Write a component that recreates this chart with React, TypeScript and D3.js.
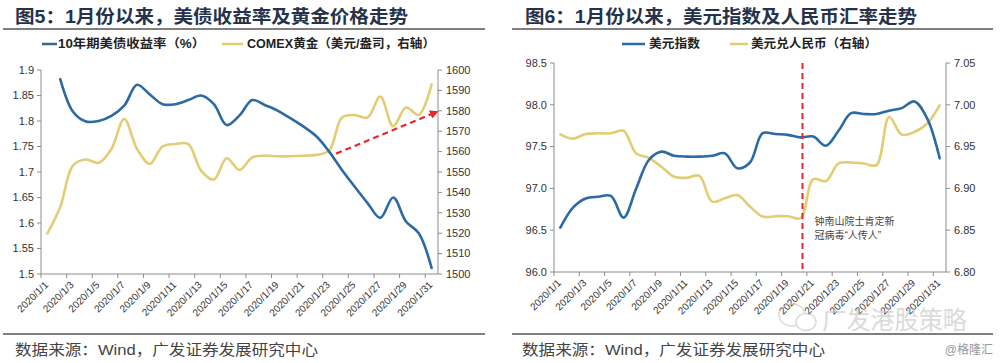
import * as d3 from "d3";

// 2020年1月 每日
const dates = [
  "2020/1/1", "2020/1/2", "2020/1/3", "2020/1/4", "2020/1/5", "2020/1/6", "2020/1/7", "2020/1/8",
  "2020/1/9", "2020/1/10", "2020/1/11", "2020/1/12", "2020/1/13", "2020/1/14", "2020/1/15", "2020/1/16",
  "2020/1/17", "2020/1/18", "2020/1/19", "2020/1/20", "2020/1/21", "2020/1/22", "2020/1/23", "2020/1/24",
  "2020/1/25", "2020/1/26", "2020/1/27", "2020/1/28", "2020/1/29", "2020/1/30", "2020/1/31",
];

// 图5
const ust10y = [
  null, 1.882, 1.818, 1.799, 1.8, 1.81, 1.83, 1.871, 1.852, 1.833, 1.833, 1.841, 1.85, 1.833, 1.792, 1.811,
  1.841, 1.831, 1.82, 1.805, 1.789, 1.77, 1.74, 1.704, 1.671, 1.639, 1.61, 1.65, 1.603, 1.58, 1.512,
];
const comexGold = [
  1519.8, 1532.8, 1553.2, 1556.1, 1554.5, 1561.3, 1576, 1561.3, 1554, 1562.6, 1563.7, 1563.7, 1550.7, 1546.3,
  1556.7, 1551, 1557.2, 1558, 1557.7, 1557.7, 1558, 1558.4, 1560.5, 1576.7, 1577.9, 1576.7, 1587, 1572.4,
  1581.6, 1578, 1593,
];
const yieldTicks = [1.5, 1.55, 1.6, 1.65, 1.7, 1.75, 1.8, 1.85, 1.9];
const goldTicks = [1500, 1510, 1520, 1530, 1540, 1550, 1560, 1570, 1580, 1590, 1600];

// 图6
const dxy = [
  96.53, 96.77, 96.88, 96.9, 96.91, 96.65, 97.0, 97.34, 97.44, 97.39, 97.38, 97.38, 97.39, 97.42, 97.24, 97.31,
  97.66, 97.65, 97.64, 97.61, 97.62, 97.51, 97.69, 97.9, 97.89, 97.89, 97.93, 97.96, 98.04, 97.84, 97.36,
];
const usdcny = [
  6.9647, 6.9595, 6.9651, 6.9659, 6.9659, 6.969, 6.9417, 6.9365, 6.9258, 6.9139, 6.9127, 6.915, 6.8841, 6.8881,
  6.892, 6.8782, 6.8663, 6.8667, 6.8667, 6.8643, 6.9111, 6.9087, 6.9298, 6.931, 6.9298, 6.9278, 6.9853, 6.9643,
  6.9675, 6.9774, 6.9992,
];
const dxyTicks = [96.0, 96.5, 97.0, 97.5, 98.0, 98.5];
const cnyTicks = [6.8, 6.85, 6.9, 6.95, 7.0, 7.05];

const BLUE = "#2c6aa3";
const GOLD = "#e3cd74";
const RED = "#e8262c";
const AXIS = "#8c8c8c";
const TXT = "#333";
const NUM_FONT = "'Liberation Sans', Arial, sans-serif";
const CJK_FONT = "'Liberation Sans', 'Noto Sans CJK SC', sans-serif";

type Series = { values: (number | null)[]; color: string; axis: "left" | "right" };

interface PanelProps {
  x0: number;
  x1: number;
  yTop: number;
  yBot: number;
  leftDomain: [number, number];
  rightDomain: [number, number];
  leftTicks: number[];
  rightTicks: number[];
  leftFmt: (v: number) => string;
  rightFmt: (v: number) => string;
  series: Series[];
  children?: (x: (i: number) => number, yl: d3.ScaleLinear<number, number>, yr: d3.ScaleLinear<number, number>) => any;
}

const Panel = (p: PanelProps) => {
  // 每日一个类别，点在类别中心
  const xLin = d3.scaleLinear().domain([0, dates.length]).range([p.x0, p.x1]);
  const xc = (i: number) => xLin(i + 0.5);
  const yl = d3.scaleLinear().domain(p.leftDomain).range([p.yBot, p.yTop]);
  const yr = d3.scaleLinear().domain(p.rightDomain).range([p.yBot, p.yTop]);

  return (
    <g>
      {p.series.map((s, k) => {
        const y = s.axis === "left" ? yl : yr;
        const line = d3
          .line<number | null>()
          .defined(d => d != null)
          .x((_, i) => xc(i))
          .y(d => y(d as number))
          .curve(d3.curveCatmullRom.alpha(0.5));
        return (
          <path key={k} d={line(s.values) || ""} fill="none" stroke={s.color} strokeWidth={2.6}
            strokeLinejoin="round" strokeLinecap="round" />
        );
      })}

      {/* axes */}
      <line x1={p.x0} x2={p.x0} y1={p.yTop} y2={p.yBot} stroke={AXIS} />
      <line x1={p.x1} x2={p.x1} y1={p.yTop} y2={p.yBot} stroke={AXIS} />
      <line x1={p.x0} x2={p.x1} y1={p.yBot} y2={p.yBot} stroke={AXIS} />

      {p.leftTicks.map(t => (
        <g key={"l" + t}>
          <line x1={p.x0 - 4} x2={p.x0} y1={yl(t)} y2={yl(t)} stroke={AXIS} />
          <text x={p.x0 - 7} y={yl(t)} dy="0.35em" textAnchor="end" fontSize={11} fill={TXT} fontFamily={NUM_FONT}>
            {p.leftFmt(t)}
          </text>
        </g>
      ))}
      {p.rightTicks.map(t => (
        <g key={"r" + t}>
          <line x1={p.x1} x2={p.x1 + 4} y1={yr(t)} y2={yr(t)} stroke={AXIS} />
          <text x={p.x1 + 8} y={yr(t)} dy="0.35em" textAnchor="start" fontSize={11} fill={TXT} fontFamily={NUM_FONT}>
            {p.rightFmt(t)}
          </text>
        </g>
      ))}
      {dates.map((d, i) =>
        i % 2 === 0 ? (
          <g key={d}>
            <line x1={xLin(i)} x2={xLin(i)} y1={p.yBot} y2={p.yBot + 4} stroke={AXIS} />
            <text transform={`translate(${xc(i) - 1},${p.yBot + 9}) rotate(-45)`} textAnchor="end" dy="0.35em"
              fontSize={10} fill={TXT} fontFamily={NUM_FONT}>
              {d}
            </text>
          </g>
        ) : null
      )}
      {p.children ? p.children(xLin, yl, yr) : null}
    </g>
  );
};

const App = () => {
  return (
    <svg width={1000} height={363} style={{ position: "absolute", left: 0, top: 0, background: "#fff" }}>
      <defs>
        <marker id="arrowHead" viewBox="0 0 10 10" refX={8} refY={5} markerWidth={4} markerHeight={4} orient="auto">
          <path d="M0,0 L10,5 L0,10 z" fill={RED} />
        </marker>
      </defs>
      <rect width={1000} height={363} fill="#fff" />

      {/* 图5 */}
      <text x={15} y={23} fontSize={18} fontWeight="bold" fill="#26324a" fontFamily={CJK_FONT}
        textLength={393} lengthAdjust="spacingAndGlyphs">
        图5：1月份以来，美债收益率及黄金价格走势
      </text>
      <line x1={3} x2={485} y1={29} y2={29} stroke="#555" strokeWidth={1.5} />
      <line x1={42} x2={57} y1={44} y2={44} stroke={BLUE} strokeWidth={2.5} />
      <text x={58} y={48} fontSize={12} fontWeight="bold" fill="#222" fontFamily={CJK_FONT}
        textLength={147} lengthAdjust="spacingAndGlyphs">10年期美债收益率（%）</text>
      <line x1={222} x2={243} y1={44} y2={44} stroke={GOLD} strokeWidth={2.5} />
      <text x={247} y={48} fontSize={12} fontWeight="bold" fill="#222" fontFamily={CJK_FONT}
        textLength={188} lengthAdjust="spacingAndGlyphs">COMEX黄金（美元/盎司，右轴）</text>

      <Panel
        x0={41} x1={438} yTop={70} yBot={274}
        leftDomain={[1.5, 1.9]} rightDomain={[1500, 1600]}
        leftTicks={yieldTicks} rightTicks={goldTicks}
        leftFmt={v => String(+v.toFixed(2))} rightFmt={v => String(v)}
        series={[
          { values: comexGold, color: GOLD, axis: "right" },
          { values: ust10y, color: BLUE, axis: "left" },
        ]}
      >
        {(xLin, _yl, yr) => (
          <line x1={xLin(23.05)} y1={yr(1559)} x2={xLin(31) - 1} y2={yr(1579.5)} stroke={RED} strokeWidth={2.2}
            strokeDasharray="6,4" markerEnd="url(#arrowHead)" />
        )}
      </Panel>

      <line x1={3} x2={485} y1={334} y2={334} stroke="#555" strokeWidth={1.5} />
      <text x={15} y={355} fontSize={15} fill="#444" fontFamily={CJK_FONT} textLength={303}
        lengthAdjust="spacingAndGlyphs">数据来源：Wind，广发证券发展研究中心</text>

      {/* 图6 */}
      <text x={525} y={23} fontSize={18} fontWeight="bold" fill="#26324a" fontFamily={CJK_FONT}
        textLength={392} lengthAdjust="spacingAndGlyphs">
        图6：1月份以来，美元指数及人民币汇率走势
      </text>
      <line x1={512} x2={993} y1={29} y2={29} stroke="#555" strokeWidth={1.5} />
      <line x1={622} x2={645} y1={44} y2={44} stroke={BLUE} strokeWidth={2.5} />
      <text x={649} y={48} fontSize={12} fontWeight="bold" fill="#222" fontFamily={CJK_FONT}
        textLength={51} lengthAdjust="spacingAndGlyphs">美元指数</text>
      <line x1={730} x2={748} y1={44} y2={44} stroke={GOLD} strokeWidth={2.5} />
      <text x={751} y={48} fontSize={12} fontWeight="bold" fill="#222" fontFamily={CJK_FONT}
        textLength={126} lengthAdjust="spacingAndGlyphs">美元兑人民币（右轴）</text>

      <Panel
        x0={554} x1={946} yTop={63} yBot={272}
        leftDomain={[96, 98.5]} rightDomain={[6.8, 7.05]}
        leftTicks={dxyTicks} rightTicks={cnyTicks}
        leftFmt={v => v.toFixed(1)} rightFmt={v => v.toFixed(2)}
        series={[
          { values: usdcny, color: GOLD, axis: "right" },
          { values: dxy, color: BLUE, axis: "left" },
        ]}
      >
        {(xLin, _yl, yr) => {
          const xv = xLin(dates.indexOf("2020/1/20") + 0.65);
          return (
            <g>
              <line x1={xv} x2={xv} y1={yr(7.05)} y2={yr(6.8)} stroke={RED} strokeWidth={2} strokeDasharray="6,4" />
              <text x={xv + 12} y={yr(6.8) - 47} fontSize={10} fill="#444" fontFamily={CJK_FONT}>钟南山院士肯定新</text>
              <text x={xv + 12} y={yr(6.8) - 33} fontSize={10} fill="#444" fontFamily={CJK_FONT}>冠病毒“人传人”</text>
            </g>
          );
        }}
      </Panel>

      {/* 水印 */}
      <g opacity={0.55}>
        <ellipse cx={792} cy={315} rx={13} ry={11} fill="none" stroke="#bbb" strokeWidth={1.5} />
        <ellipse cx={806} cy={322} rx={10} ry={8.5} fill="#fff" stroke="#bbb" strokeWidth={1.5} />
        <text x={822} y={329} fontSize={25} fill="#bdbdbd" fontFamily="'Noto Sans CJK SC', sans-serif"
          textLength={145} lengthAdjust="spacingAndGlyphs">广发港股策略</text>
      </g>

      <line x1={512} x2={993} y1={334} y2={334} stroke="#555" strokeWidth={1.5} />
      <text x={522} y={355} fontSize={15} fill="#444" fontFamily={CJK_FONT} textLength={303}
        lengthAdjust="spacingAndGlyphs">数据来源：Wind，广发证券发展研究中心</text>
      <text x={993} y={354} fontSize={12} fill="#999" textAnchor="end" fontFamily={CJK_FONT}>@格隆汇</text>
    </svg>
  );
};

export default App;
